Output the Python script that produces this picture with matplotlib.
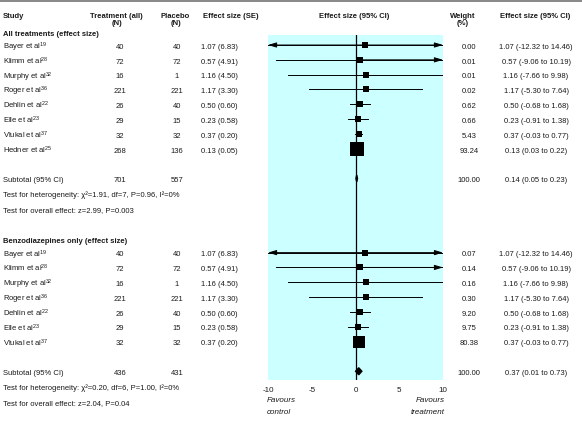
import numpy as np
import matplotlib
matplotlib.use("Agg")
import matplotlib.pyplot as plt
from matplotlib.patches import Polygon

plt.rcParams['font.family'] = ['Liberation Sans', 'DejaVu Sans']
plt.rcParams['mathtext.fontset'] = 'custom'
plt.rcParams['mathtext.rm'] = 'Liberation Sans'
plt.rcParams['mathtext.it'] = 'Liberation Sans:italic'
plt.rcParams['mathtext.bf'] = 'Liberation Sans:bold'

# data
studies = ['Bayer', 'Klimm', 'Murphy', 'Roger', 'Dehlin', 'Elle', 'Vlukal', 'Hedner']
refs = [19, 28, 32, 36, 22, 23, 37, 25]
n_treat = [40, 72, 16, 221, 26, 29, 32, 268]
n_plac = [40, 72, 1, 221, 40, 15, 32, 136]
es = [1.07, 0.57, 1.16, 1.17, 0.50, 0.23, 0.37, 0.13]
se = [6.83, 4.91, 4.50, 3.30, 0.60, 0.58, 0.20, 0.05]
ci_lo = [-12.32, -9.06, -7.66, -5.30, -0.68, -0.91, -0.03, 0.03]
ci_hi = [14.46, 10.19, 9.98, 7.64, 1.68, 1.38, 0.77, 0.22]
weight_all = [0.00, 0.01, 0.01, 0.02, 0.62, 0.66, 5.43, 93.24]
weight_benzo = [0.07, 0.14, 0.16, 0.30, 9.20, 9.75, 80.38]   # first 7 studies

sub_all = dict(nt=701, np=557, es=0.14, lo=0.05, hi=0.23, w=100.00,
               het='Test for heterogeneity: χ²=1.91, df=7, P=0.96, I²=0%',
               overall='Test for overall effect: z=2.99, P=0.003')
sub_benzo = dict(nt=436, np=431, es=0.37, lo=0.01, hi=0.73, w=100.00,
                 het='Test for heterogeneity: χ²=0.20, df=6, P=1.00, I²=0%',
                 overall='Test for overall effect: z=2.04, P=0.04')
xticks = [-10, -5, 0, 5, 10]

# layout (pixels)
W, H = 582, 427
row0, rowh = 46, 14.83
box_l, box_r, box_t, box_b = 268, 443, 36, 381
fs = 5.5
tc = '#1a1a1a'
bl = 2.7   # baseline offset below row centre

def ry(r):
    return row0 + rowh * r

def txt(x, y, s, **kw):
    kw.setdefault('fontsize', fs)
    ax.text(x, y + bl, s, va='baseline', color=tc, **kw)

fig = plt.figure(figsize=(W / 100, H / 100), dpi=100)
ax = fig.add_axes([0, 0, 1, 1])
ax.set_xlim(0, W)
ax.set_ylim(H, 0)
ax.axis('off')
ax.axhspan(0, 2.5, color='#8a8a8a', lw=0)

fax = fig.add_axes([box_l / W, (H - box_b) / H, (box_r - box_l) / W, (box_b - box_t) / H])
fax.set_facecolor('#ccffff')
fax.set_xlim(-10, 10)
fax.set_ylim(box_b, box_t)
for s in fax.spines.values():
    s.set_visible(False)
fax.set_yticks([])
fax.set_xticks(xticks)
fax.set_xticklabels([str(t) for t in xticks])
fax.tick_params(axis='x', length=0, pad=4.5, labelsize=fs + 0.3, labelcolor=tc)
fax.axvline(0, color='black', lw=0.9, zorder=3)

# headers
hy1, hy2 = 15, 22.5
txt(3, hy1, 'Study', weight='bold')
txt(116, hy1, 'Treatment (all)', weight='bold', ha='center')
txt(117, hy2, '(N)', weight='bold', ha='center')
txt(175, hy1, 'Placebo', weight='bold', ha='center')
txt(176, hy2, '(N)', weight='bold', ha='center')
txt(203, hy1, 'Effect size (SE)', weight='bold')
txt(354, hy1, 'Effect size (95% CI)', weight='bold', ha='center')
txt(463, hy1, 'Weight', weight='bold', ha='center')
txt(463, hy2, '(%)', weight='bold', ha='center')
txt(535, hy1, 'Effect size (95% CI)', weight='bold', ha='center')


def draw_group(title, title_y, first_row, n, weights, sub):
    txt(3, title_y, title, weight='bold')
    for i in range(n):
        y = ry(first_row + i)
        txt(3, y + 0.8, studies[i] + ' et al$^{%d}$' % refs[i])
        txt(120, y, str(n_treat[i]), ha='center')
        txt(177, y, str(n_plac[i]), ha='center')
        txt(201, y, '%.2f (%.2f)' % (es[i], se[i]))
        txt(469, y, '%.2f' % weights[i], ha='center')
        txt(536, y, '%.2f (%.2f to %.2f)' % (es[i], ci_lo[i], ci_hi[i]), ha='center')
        # CI line, arrow heads where it runs past the axis
        lo, hi = ci_lo[i], ci_hi[i]
        lo_c, hi_c = max(lo, -10), min(hi, 10)
        fax.plot([lo_c, hi_c], [y, y], color='black', lw=0.7, zorder=4)
        for end in (10, -10):
            if (end > 0 and hi > end) or (end < 0 and lo < end):
                fax.annotate('', xy=(end, y), xytext=(es[i], y),
                             arrowprops=dict(arrowstyle='-|>,head_length=0.5,head_width=0.15',
                                             color='black', lw=0.7, shrinkA=0, shrinkB=0), zorder=4)
        side = max(6, 1.35 * np.sqrt(weights[i]))
        fax.scatter([es[i]], [y], marker='s', s=(side * 0.72) ** 2, color='black',
                    linewidths=0, zorder=5)
    # subtotal
    y = ry(first_row + n + 1)
    txt(3, y, 'Subtotal (95% CI)')
    txt(120, y, str(sub['nt']), ha='center')
    txt(177, y, str(sub['np']), ha='center')
    txt(469, y, '%.2f' % sub['w'], ha='center')
    txt(536, y, '%.2f (%.2f to %.2f)' % (sub['es'], sub['lo'], sub['hi']), ha='center')
    dh = 3.5
    fax.add_patch(Polygon([(sub['lo'], y), (sub['es'], y - dh), (sub['hi'], y), (sub['es'], y + dh)],
                          closed=True, color='black', zorder=5))
    txt(3, ry(first_row + n + 2), sub['het'])
    txt(3, ry(first_row + n + 3), sub['overall'])


draw_group('All treatments (effect size)', 33, 0, 8, weight_all, sub_all)
draw_group('Benzodiazepines only (effect size)', 240, 14, 7, weight_benzo, sub_benzo)

txt(267, 399, 'Favours', fontsize=fs + 0.3, style='italic')
txt(267, 411.5, 'control', fontsize=fs + 0.3, style='italic')
txt(445, 399, 'Favours', fontsize=fs + 0.3, style='italic', ha='right')
txt(445, 411.5, 'treatment', fontsize=fs + 0.3, style='italic', ha='right')

fig.savefig('out.png', dpi=100)
